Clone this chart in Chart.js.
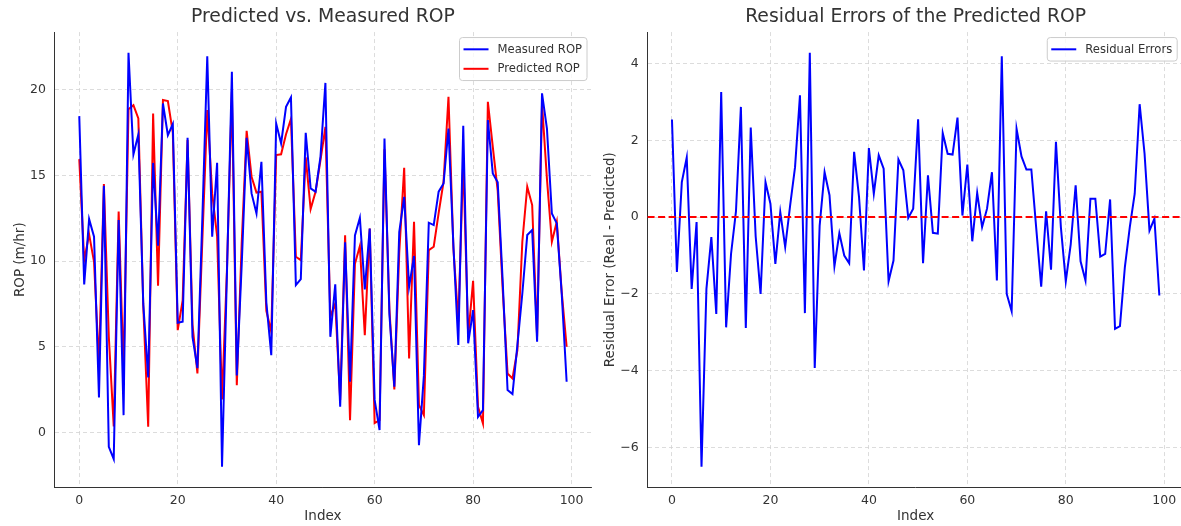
<!DOCTYPE html>
<html>
<head>
<meta charset="utf-8">
<script src="https://cdn.jsdelivr.net/npm/chart.js@4.4.1/dist/chart.umd.min.js"></script>
<style>
  html, body { margin: 0; padding: 0; background: #fff; overflow: hidden; }
  #wrap { position: relative; width: 1181px; height: 526px; overflow: hidden; }
  #c1 { position: absolute; left: 0; top: 0; }
  #c2 { position: absolute; left: 593px; top: 0; }
</style>
</head>
<body>
<div id="wrap">
  <canvas id="c1" width="593" height="526"></canvas>
  <canvas id="c2" width="597" height="526"></canvas>
</div>
<script>
// sample index 0..99
const indexLabels = Array.from({ length: 100 }, (_, i) => i);

const measuredROP = [
  18.46, 8.64, 12.45, 11.42, 2.04, 14.4, -0.84, -1.55, 12.4, 1.01,
  22.16, 16.23, 17.39, 7.5, 3.21, 15.73, 10.9, 19.2, 17.35, 18.0,
  6.4, 6.46, 17.2, 5.58, 3.75, 12.5, 21.96, 11.42, 15.74, -2.0,
  9.3, 21.05, 3.33, 9.8, 17.2, 13.95, 12.78, 15.8, 7.6, 4.51,
  18.03, 16.87, 19.0, 19.55, 8.6, 8.95, 17.49, 14.24, 14.05, 16.1,
  20.4, 5.58, 8.64, 1.5, 11.1, 2.96, 11.5, 12.53, 8.35, 11.9,
  1.9, 0.14, 17.16, 6.9, 2.67, 11.7, 13.75, 8.5, 10.3, -0.74,
  3.3, 12.24, 12.1, 14.05, 14.53, 17.74, 10.9, 5.1, 17.9, 5.2,
  7.14, 0.91, 1.3, 18.23, 15.12, 14.6, 8.9, 2.47, 2.24, 5.1,
  8.11, 11.52, 11.81, 5.3, 19.79, 17.74, 12.78, 12.2, 8.1, 2.96
];

const predictedROP = [
  15.95, 10.06, 11.56, 9.96, 3.93, 14.5, 5.6, 0.35, 12.9, 3.54,
  18.87, 19.1, 18.33, 7.4, 0.33, 18.62, 8.56, 19.4, 19.34, 17.5,
  5.97, 7.7, 17.06, 6.3, 3.44, 11.2, 18.81, 13.95, 11.46, 1.93,
  9.5, 19.88, 2.76, 11.1, 17.6, 14.92, 14.0, 14.05, 7.1, 5.88,
  16.19, 16.23, 17.4, 18.29, 10.25, 10.06, 16.05, 13.04, 14.05, 15.9,
  17.84, 6.75, 7.53, 1.89, 11.5, 0.72, 9.85, 10.88, 5.68, 11.9,
  0.55, 0.72, 16.52, 7.2, 2.51, 10.5, 15.45, 4.32, 12.3, 1.6,
  1.01, 10.64, 10.84, 12.8, 14.63, 19.59, 10.75, 6.46, 15.95, 5.6,
  8.85, 1.5, 0.53, 19.3, 16.67, 14.1, 8.4, 3.44, 3.15, 4.81,
  11.13, 14.34, 13.27, 5.6, 19.2, 14.8, 11.13, 12.3, 8.2, 5.0
];

const residualErrors = [
  2.54, -1.43, 0.91, 1.55, -1.87, -0.13, -6.5, -1.87, -0.52, -2.52,
  3.26, -2.87, -0.96, 0.15, 2.87, -2.89, 2.33, -0.5, -2.0, 0.91,
  0.35, -1.22, 0.13, -0.78, 0.3, 1.3, 3.17, -2.5, 4.28, -3.93,
  -0.22, 1.17, 0.57, -1.28, -0.42, -1.0, -1.2, 1.7, 0.52, -1.39,
  1.8, 0.61, 1.61, 1.26, -1.67, -1.13, 1.5, 1.22, -0.02, 0.22,
  2.55, -1.2, 1.09, -0.41, -0.43, 2.19, 1.65, 1.63, 2.59, 0.04,
  1.37, -0.63, 0.63, -0.26, 0.22, 1.17, -1.65, 4.19, -2.0, -2.45,
  2.3, 1.58, 1.24, 1.24, -0.3, -1.81, 0.15, -1.37, 1.96, -0.26,
  -1.67, -0.71, 0.83, -1.15, -1.65, 0.48, 0.48, -1.03, -0.96, 0.46,
  -2.91, -2.84, -1.3, -0.26, 0.61, 2.94, 1.65, -0.35, -0.04, -2.04
];

const xTicks = [0, 20, 40, 60, 80, 100];
const ropTicks = [0, 5, 10, 15, 20];
const residualTicks = [-6, -4, -2, 0, 2, 4];

const FONT = "'DejaVu Sans', sans-serif";
const TEXT = "#333333";
const GRID = "#d3d3d3";

// matplotlib style 5% margins
function padded(values) {
  const lo = Math.min(...values);
  const hi = Math.max(...values);
  const m = (hi - lo) * 0.05;
  return { min: lo - m, max: hi + m };
}

function fixTicks(list) {
  return (scale) => {
    scale.ticks = list.map((v) => ({ value: v }));
  };
}

const legendBox = {
  id: "legendBox",
  afterDraw(chart, args, opts) {
    const ctx = chart.ctx;
    const area = chart.chartArea;
    const items = chart.data.datasets.filter((d) => d.label);
    ctx.save();
    ctx.font = opts.size + "px " + FONT;
    const textW = Math.max(...items.map((d) => ctx.measureText(d.label).width));
    const rowH = 19.5;
    const w = 4 + 25 + 9 + textW + 5;
    const h = items.length * rowH + 4;
    const x0 = area.right - opts.inset - w;
    const y0 = area.top + 5.5;
    ctx.beginPath();
    ctx.roundRect(x0, y0, w, h, 3);
    ctx.fillStyle = "rgba(255,255,255,0.8)";
    ctx.fill();
    ctx.strokeStyle = "#cccccc";
    ctx.lineWidth = 1;
    ctx.stroke();
    items.forEach((d, i) => {
      const cy = y0 + 2 + rowH * (i + 0.5);
      ctx.beginPath();
      ctx.moveTo(x0 + 4, cy);
      ctx.lineTo(x0 + 29, cy);
      ctx.strokeStyle = d.borderColor;
      ctx.lineWidth = 2;
      ctx.stroke();
      ctx.fillStyle = TEXT;
      ctx.textBaseline = "middle";
      ctx.textAlign = "left";
      ctx.fillText(d.label, x0 + 38, cy + 0.5);
    });
    ctx.restore();
  }
};

const zeroLine = {
  id: "zeroLine",
  afterDatasetsDraw(chart) {
    const { ctx, chartArea: a, scales } = chart;
    const py = scales.y.getPixelForValue(0);
    ctx.save();
    ctx.strokeStyle = "#ff0000";
    ctx.lineWidth = 2;
    ctx.setLineDash([7, 3.5]);
    ctx.beginPath();
    ctx.moveTo(a.left, py);
    ctx.lineTo(a.right, py);
    ctx.stroke();
    ctx.restore();
  }
};

function xAxis() {
  const r = padded(indexLabels);
  return {
    type: "linear",
    min: r.min,
    max: r.max,
    afterBuildTicks: fixTicks(xTicks),
    afterFit: (s) => { s.height = 38.6; },
    grid: { color: GRID, lineWidth: 0.8, drawTicks: false },
    border: { display: true, color: TEXT, width: 1, dash: [4, 3] },
    ticks: { color: TEXT, font: { family: FONT, size: 12.5 }, padding: 5.5, maxRotation: 0 },
    title: { display: true, text: "Index", color: TEXT, font: { family: FONT, size: 13.5 }, padding: { top: 0, bottom: 1 } }
  };
}

function yAxis(values, tickList, width, label, titlePad, fmt) {
  const r = padded(values);
  return {
    min: r.min,
    max: r.max,
    afterBuildTicks: fixTicks(tickList),
    afterFit: (s) => { s.width = width; },
    grid: { color: GRID, lineWidth: 0.8, drawTicks: false },
    border: { display: true, color: TEXT, width: 1, dash: [4, 3] },
    ticks: { color: TEXT, font: { family: FONT, size: 12.5 }, padding: 9, callback: fmt },
    title: { display: true, text: label, color: TEXT, font: { family: FONT, size: 13.5 }, padding: { top: titlePad, bottom: 0 } }
  };
}

function titleOpts(text) {
  return {
    display: true,
    text: text,
    fullSize: false,
    color: TEXT,
    font: { family: FONT, size: 18.8, weight: "normal" },
    padding: { top: 6.2, bottom: 3.3 }
  };
}

new Chart(document.getElementById("c1"), {
  type: "line",
  data: {
    labels: indexLabels,
    datasets: [
      { label: "Measured ROP", data: measuredROP, borderColor: "#0000ff", backgroundColor: "#0000ff", borderWidth: 2, pointRadius: 0, tension: 0 },
      { label: "Predicted ROP", data: predictedROP, borderColor: "#ff0000", backgroundColor: "#ff0000", borderWidth: 2, pointRadius: 0, tension: 0 }
    ]
  },
  options: {
    responsive: false,
    animation: false,
    devicePixelRatio: 1,
    layout: { padding: { left: 0, right: 2, top: 0, bottom: 0 } },
    scales: {
      x: xAxis(),
      y: yAxis(measuredROP.concat(predictedROP), ropTicks, 54.9, "ROP (m/hr)", 12, (v) => String(v))
    },
    plugins: {
      legend: { display: false },
      tooltip: { enabled: false },
      title: titleOpts("Predicted vs. Measured ROP"),
      legendBox: { size: 11.6, inset: 4 }
    }
  },
  plugins: [legendBox]
});

new Chart(document.getElementById("c2"), {
  type: "line",
  data: {
    labels: indexLabels,
    datasets: [
      { label: "Residual Errors", data: residualErrors, borderColor: "#0000ff", backgroundColor: "#0000ff", borderWidth: 2, pointRadius: 0, tension: 0 }
    ]
  },
  options: {
    responsive: false,
    animation: false,
    devicePixelRatio: 1,
    layout: { padding: { left: 0, right: 6.3, top: 0, bottom: 0 } },
    scales: {
      x: xAxis(),
      y: yAxis(residualErrors, residualTicks, 54.6, "Residual Error (Real - Predicted)", 9.5,
        (v) => (v < 0 ? "\u2212" + Math.abs(v) : String(v)))
    },
    plugins: {
      legend: { display: false },
      tooltip: { enabled: false },
      title: titleOpts("Residual Errors of the Predicted ROP"),
      legendBox: { size: 11.6, inset: 6.5 }
    }
  },
  plugins: [zeroLine, legendBox]
});
</script>
</body>
</html>
